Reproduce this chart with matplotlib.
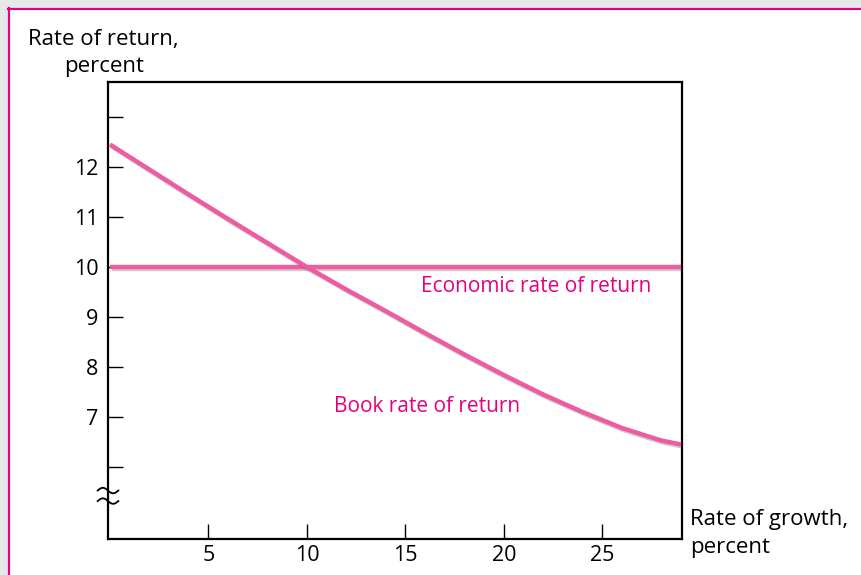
import numpy as np
import matplotlib
matplotlib.use("Agg")
import matplotlib.pyplot as plt
import matplotlib.patheffects as pe
from matplotlib.patches import Rectangle
from matplotlib.lines import Line2D

plt.rcParams['font.family'] = ['Open Sans', 'DejaVu Sans']

# values
growth = [0, 2, 4, 6, 8, 10, 12, 14, 16, 18, 20, 22, 24, 26, 28, 29]
book_rate = [12.45, 11.95, 11.45, 10.96, 10.48, 10.0, 9.55, 9.12, 8.68, 8.25,
             7.84, 7.45, 7.1, 6.78, 6.53, 6.45]
economic_rate = [10.0] * len(growth)

x_ticks = [5, 10, 15, 20, 25]
y_ticks = [6, 7, 8, 9, 10, 11, 12, 13]
y_labels = ['', '7', '8', '9', '10', '11', '12', '']

line_col = '#ee5ba0'
text_col = '#e5007d'

fig = plt.figure(figsize=(8.62, 5.75), dpi=100)
W, H = 862, 575

# grey margin and pink frame (top and left only)
fig.patches.append(Rectangle((0, 1 - 8 / H), 1, 8 / H, transform=fig.transFigure,
                             facecolor='#e6e7e8', edgecolor='none', zorder=0))
fig.patches.append(Rectangle((0, 0), 8 / W, 1, transform=fig.transFigure,
                             facecolor='#e6e7e8', edgecolor='none', zorder=0))
fig.add_artist(Line2D([8.5 / W, 1], [1 - 9 / H, 1 - 9 / H], transform=fig.transFigure,
                      color=text_col, lw=1.6))
fig.add_artist(Line2D([9.5 / W, 9.5 / W], [0, 1 - 8 / H], transform=fig.transFigure,
                      color=text_col, lw=1.6))

ax = fig.add_axes([108 / W, 36 / H, (682 - 108) / W, (539 - 82) / H])
ax.set_xlim(-0.1, 29.05)
ax.set_ylim(4.56, 13.7)

shadow = [pe.SimpleLineShadow(offset=(1.2, -1.5), shadow_color='#555555', alpha=0.3),
          pe.Normal()]
ax.plot(growth, economic_rate, color=line_col, lw=3.2, solid_capstyle='butt',
        path_effects=shadow, zorder=3)
ax.plot(growth, book_rate, color=line_col, lw=3.2, solid_capstyle='butt',
        solid_joinstyle='round', path_effects=shadow, zorder=3)

ax.text(15.8, 9.6, 'Economic rate of return', color=text_col, fontsize=15,
        va='center', ha='left')
ax.text(11.4, 7.22, 'Book rate of return', color=text_col, fontsize=15,
        va='center', ha='left')

for s in ax.spines.values():
    s.set_linewidth(1.6)
ax.set_xticks(x_ticks)
ax.set_yticks(y_ticks)
ax.set_yticklabels(y_labels)
ax.tick_params(direction='in', length=11, width=1.0, labelsize=15.5, color='black')
ax.tick_params(axis='y', pad=7)
ax.tick_params(axis='x', pad=4)

# axis break marks on the y axis
t = np.linspace(-1, 1, 60)
for yc in (0.083, 0.106):
    ax.plot(t * 0.018, yc - 0.006 * np.sin(np.pi * t), transform=ax.transAxes,
            color='black', lw=1.3, clip_on=False, zorder=5)

fig.text(28 / W, 1 - 40 / H, 'Rate of return,', fontsize=16, va='center', ha='left')
fig.text(64 / W, 1 - 67 / H, 'percent', fontsize=16, va='center', ha='left')
fig.text(690 / W, 1 - 520 / H, 'Rate of growth,', fontsize=16, va='center', ha='left')
fig.text(690 / W, 1 - 548 / H, 'percent', fontsize=16, va='center', ha='left')

fig.savefig('out.png', dpi=100)
